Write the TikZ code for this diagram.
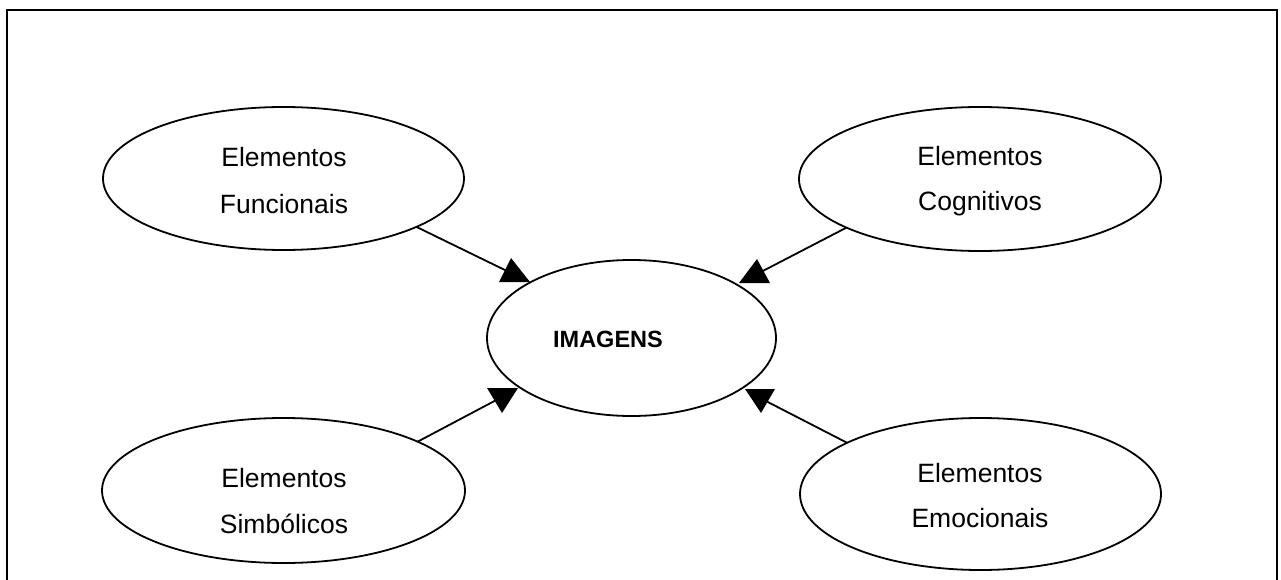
\documentclass[tikz,border=0pt]{standalone}
\usepackage{fontspec}
\setmainfont{Liberation Sans}
\usetikzlibrary{shapes.geometric}
\begin{document}
\begin{tikzpicture}[x=1pt,y=-1pt,
  bubble/.style={ellipse,draw,line width=1.8pt,inner sep=0pt,outer sep=0pt},
  lbl/.style={anchor=base,inner sep=0pt,font=\fontsize{26.5}{30}\selectfont},
  hub/.style={anchor=base,inner sep=0pt,font=\fontsize{23.5}{28}\selectfont\bfseries},
  link/.style={line width=1.8pt},
  tip/.style={fill=black}]
\useasboundingbox (0,0) rectangle (1281,580);
% frame, running off the lower edge
\begin{scope}
  \clip (0,0) rectangle (1281,580);
  \draw[line width=2.4pt] (7,600) -- (7,10) -- (1277,10) -- (1277,600);
\end{scope}

% ellipses
\node[bubble,minimum width=361pt,minimum height=143pt] (func) at (283.5,178.5) {};
\node[bubble,minimum width=362pt,minimum height=144pt] (cogn) at (980,179) {};
\node[bubble,minimum width=363pt,minimum height=145pt] (simb) at (283.5,490.5) {};
\node[bubble,minimum width=361pt,minimum height=152pt] (emoc) at (980.5,494) {};
\node[bubble,minimum width=289pt,minimum height=156pt] (img) at (631.5,338) {};

% labels
\node[lbl] (func1) at (284,167) {Elementos};
\node[lbl] (func2) at (284,213) {Funcionais};
\node[lbl] (cogn1) at (980,166) {Elementos};
\node[lbl] (cogn2) at (980,211) {Cognitivos};
\node[lbl] (simb1) at (284,487) {Elementos};
\node[lbl] (simb2) at (284,533) {Simbólicos};
\node[lbl] (emoc1) at (980,482) {Elementos};
\node[lbl] (emoc2) at (980,527) {Emocionais};
\node[hub] (imgtxt) at (608,347) {IMAGENS};

% arrow heads
\fill[tip] (499,282) -- (511,258) -- (530,282) -- cycle;
\fill[tip] (739,283) -- (757,259) -- (770,283) -- cycle;
\fill[tip] (487,388) -- (502,413) -- (518,388) -- cycle;
\fill[tip] (745,389) -- (761,413) -- (775,389) -- cycle;
\coordinate (t1) at (511,273);
\coordinate (t2) at (757,274);
\coordinate (t3) at (502,397);
\coordinate (t4) at (760,398);

% connectors
\draw[link] (func.-20) -- (t1);
\draw[link] (cogn.200) -- (t2);
\draw[link] (simb.20) -- (t3);
\draw[link] (emoc.159) -- (t4);
\end{tikzpicture}
\end{document}
